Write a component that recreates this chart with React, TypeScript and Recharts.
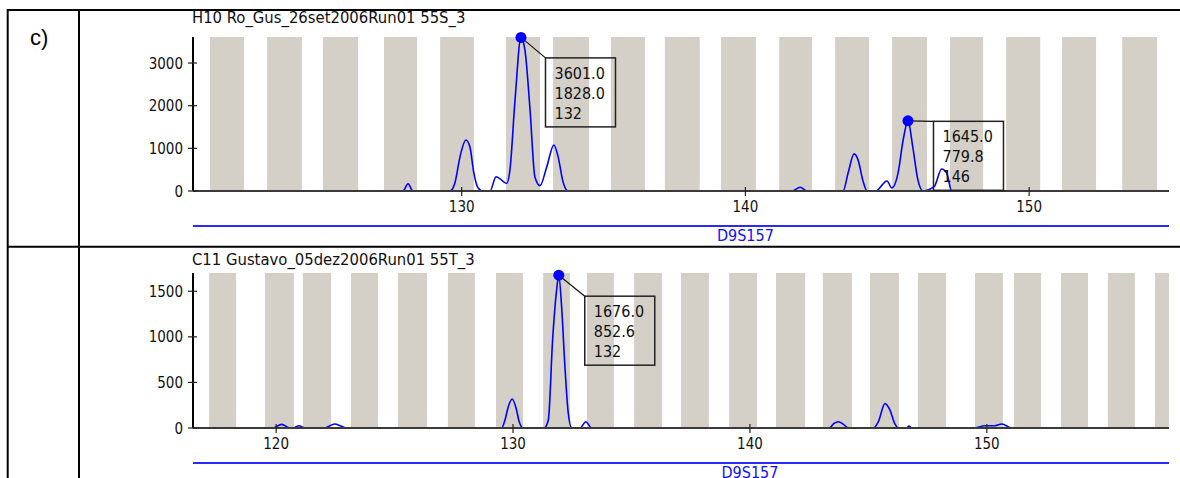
import React from 'react'
import { ComposedChart, Line, XAxis, YAxis, ReferenceArea, ReferenceDot } from 'recharts'

const FONT = "'DejaVu Sans Condensed', 'DejaVu Sans', sans-serif"

const panelLabel = 'c)'
const markerName = 'D9S157'
const markerCenter = [140]

// upper panel
const topTitle = 'H10 Ro_Gus_26set2006Run01 55S_3'
const topDomain = [120.53, 154.93]
const topMaxRfu = 3610
const topXTicks = [130, 140, 150]
const topYTicks = [0, 1000, 2000, 3000]
const topBins = [
  [121.13, 122.33], [123.14, 124.37], [125.11, 126.35], [127.26, 128.43],
  [129.24, 130.43], [131.56, 132.76], [133.22, 134.49], [135.26, 136.46],
  [137.16, 138.39], [139.14, 140.37], [141.19, 142.35], [143.16, 144.36],
  [145.17, 146.4], [147.21, 148.38], [149.19, 150.39], [151.16, 152.36],
  [153.28, 154.51],
]
const topSize = [
  120.53, 127.93, 128.11, 128.28, 129.59, 129.77, 129.94, 130.15, 130.29, 130.43,
  130.58, 130.75, 131.0, 131.21, 131.59, 131.7, 131.88, 132.09, 132.23, 132.41,
  132.58, 132.76, 133.0, 133.25, 133.4, 133.57, 133.75, 141.64, 141.93, 142.17,
  143.44, 143.62, 143.83, 143.97, 144.15, 144.29, 144.59, 144.99, 145.16, 145.38,
  145.56, 145.73, 145.9, 146.08, 146.26, 146.65, 146.92, 147.1, 147.27, 154.93,
]
const topRfu = [
  0, 0, 170, 0, 0, 210, 800, 1195, 1030, 420,
  70, 0, 0, 335, 180, 490, 2130, 3601, 3300, 1900,
  335, 125, 570, 1080, 800, 220, 0, 0, 87, 0,
  0, 420, 870, 730, 220, 0, 0, 235, 70, 420,
  1195, 1645, 1030, 260, 0, 100, 515, 410, 0, 0,
]
const topPeaks = [
  { size: 132.09, rfu: 3601, text: ['3601.0', '1828.0', '132'] },
  { size: 145.73, rfu: 1645, text: ['1645.0', '779.8', '146'] },
]

// lower panel
const bottomTitle = 'C11 Gustavo_05dez2006Run01 55T_3'
const bottomDomain = [116.49, 157.69]
const bottomMaxRfu = 1700
const bottomXTicks = [120, 130, 140, 150]
const bottomYTicks = [0, 500, 1000, 1500]
const bottomBins = [
  [117.17, 118.31], [119.53, 120.75], [121.13, 122.32], [123.16, 124.3],
  [125.14, 126.37], [127.25, 128.39], [129.28, 130.42], [131.27, 132.4],
  [133.12, 134.26], [135.11, 136.29], [137.09, 138.27], [139.12, 140.3],
  [141.1, 142.33], [143.08, 144.31], [145.07, 146.29], [147.09, 148.28],
  [149.5, 150.68], [151.15, 152.29], [153.13, 154.27], [155.11, 156.25],
  [157.1, 157.69],
]
const bottomSize = [
  116.49, 119.87, 120.23, 120.58, 120.71, 120.96, 121.22, 122.06, 122.27, 122.48,
  122.7, 122.99, 129.52, 129.66, 129.8, 129.96, 130.13, 130.26, 130.43, 131.31,
  131.49, 131.67, 131.84, 131.93, 132.05, 132.19, 132.33, 132.48, 132.83, 133.07,
  133.32, 143.35, 143.55, 143.73, 143.95, 144.15, 145.21, 145.42, 145.7, 145.91,
  146.12, 146.26, 146.62, 146.71, 146.83, 149.5, 149.92, 150.35, 150.63, 151.05,
  157.69,
]
const bottomRfu = [
  0, 0, 40, 0, 0, 25, 0, 0, 25, 44,
  25, 0, 0, 88, 234, 318, 216, 69, 0, 0,
  88, 965, 1514, 1676, 1331, 673, 165, 0, 0, 69,
  0, 0, 50, 69, 40, 0, 0, 69, 267, 197,
  44, 0, 0, 22, 0, 0, 25, 25, 44, 0,
  0,
]
const bottomPeaks = [
  { size: 131.93, rfu: 1676, text: ['1676.0', '852.6', '132'] },
]

const XTick = ({ x, y, payload }: any) => (
  <g>
    <line x1={x} y1={y - 4} x2={x} y2={y + 5} stroke="#222" strokeWidth={1.2} />
    <text x={x} y={y + 21} textAnchor="middle" fontSize={15} fontFamily={FONT} fill="#111">
      {payload.value}
    </text>
  </g>
)

const YTick = ({ x, y, payload }: any) => (
  <g>
    <line x1={x - 5} y1={y} x2={x + 4} y2={y} stroke="#222" strokeWidth={1.2} />
    <text x={x - 10} y={y + 5.5} textAnchor="end" fontSize={15} fontFamily={FONT} fill="#111">
      {payload.value}
    </text>
  </g>
)

const MarkerTick = ({ x, y }: any) => (
  <text x={x} y={y + 15} textAnchor="middle" fontSize={16} fontFamily={FONT} fill="#1010ff">
    {markerName}
  </text>
)

const Callout = ({ cx, cy, dx, dy, text }: any) => {
  const bx = cx + dx
  const by = cy + dy
  return (
    <g>
      <line x1={cx} y1={cy} x2={bx} y2={by} stroke="#111" strokeWidth={1.2} />
      <rect x={bx} y={by} width={70} height={69} fill="none" stroke="#222" strokeWidth={1.5} />
      {text.map((t: string, i: number) => (
        <text key={i} x={bx + 9} y={by + 21 + i * 20} fontSize={16} fontFamily={FONT} fill="#111">
          {t}
        </text>
      ))}
      <circle cx={cx} cy={cy} r={5.5} fill="#0000ff" />
    </g>
  )
}

interface PanelProps {
  top: number
  height: number
  marginTop: number
  markerHeight: number
  domain: number[]
  maxRfu: number
  xTicks: number[]
  yTicks: number[]
  bins: number[][]
  sizes: number[]
  rfus: number[]
  peaks: { size: number; rfu: number; text: string[] }[]
  offsets: number[][]
}

const Panel = (p: PanelProps) => {
  const data = p.sizes.map((s, i) => ({ size: s, rfu: p.rfus[i] }))
  return (
    <div style={{ position: 'absolute', left: 0, top: p.top }}>
      <ComposedChart
        width={1180}
        height={p.height}
        data={data}
        margin={{ top: p.marginTop, right: 11, bottom: 0, left: 133 }}
      >
        <XAxis
          dataKey="size"
          type="number"
          domain={p.domain}
          allowDataOverflow
          ticks={p.xTicks}
          interval={0}
          height={35}
          tickSize={0}
          tickMargin={0}
          tickLine={false}
          tick={<XTick />}
          axisLine={{ stroke: '#3a3a3a', strokeWidth: 2 }}
        />
        <XAxis
          xAxisId="marker"
          dataKey="size"
          type="number"
          domain={p.domain}
          allowDataOverflow
          ticks={markerCenter}
          interval={0}
          height={p.markerHeight}
          tickSize={0}
          tickMargin={0}
          tickLine={false}
          tick={<MarkerTick />}
          axisLine={{ stroke: '#2a2aff', strokeWidth: 2 }}
        />
        <YAxis
          type="number"
          domain={[0, p.maxRfu]}
          allowDataOverflow
          ticks={p.yTicks}
          interval={0}
          width={60}
          tickSize={0}
          tickMargin={0}
          tickLine={false}
          tick={<YTick />}
          axisLine={{ stroke: '#000', strokeWidth: 2 }}
        />
        {p.bins.map((b, i) => (
          <ReferenceArea
            key={i}
            x1={b[0]}
            x2={b[1]}
            y1={0}
            y2={p.maxRfu}
            fill="#d4d0c8"
            fillOpacity={1}
            stroke="none"
            ifOverflow="hidden"
          />
        ))}
        <Line
          dataKey="rfu"
          type="monotone"
          stroke="#0000ff"
          strokeWidth={1.6}
          dot={false}
          activeDot={false}
          isAnimationActive={false}
        />
        {p.peaks.map((pk, i) => (
          <ReferenceDot
            key={i}
            x={pk.size}
            y={pk.rfu}
            r={5.5}
            shape={(s: any) => (
              <Callout cx={s.cx} cy={s.cy} dx={p.offsets[i][0]} dy={p.offsets[i][1]} text={pk.text} />
            )}
          />
        ))}
      </ComposedChart>
    </div>
  )
}

export default function App() {
  return (
    <div
      style={{
        position: 'absolute',
        left: 0,
        top: 0,
        width: 1180,
        height: 478,
        overflow: 'hidden',
        background: '#fff',
      }}
    >
      <Panel
        top={0}
        height={246}
        marginTop={37}
        markerHeight={20}
        domain={topDomain}
        maxRfu={topMaxRfu}
        xTicks={topXTicks}
        yTicks={topYTicks}
        bins={topBins}
        sizes={topSize}
        rfus={topRfu}
        peaks={topPeaks}
        offsets={[[24.5, 20.5], [25.5, 0.5]]}
      />
      <Panel
        top={246}
        height={232}
        marginTop={27}
        markerHeight={15}
        domain={bottomDomain}
        maxRfu={bottomMaxRfu}
        xTicks={bottomXTicks}
        yTicks={bottomYTicks}
        bins={bottomBins}
        sizes={bottomSize}
        rfus={bottomRfu}
        peaks={bottomPeaks}
        offsets={[[26, 21]]}
      />
      <svg
        width={1180}
        height={478}
        style={{ position: 'absolute', left: 0, top: 0, pointerEvents: 'none' }}
      >
        <line x1={7} y1={10} x2={1180} y2={10} stroke="#000" strokeWidth={2} />
        <line x1={7.7} y1={9} x2={7.7} y2={478} stroke="#000" strokeWidth={2} />
        <line x1={79} y1={9} x2={79} y2={478} stroke="#000" strokeWidth={2} />
        <line x1={7} y1={246.7} x2={1180} y2={246.7} stroke="#000" strokeWidth={2} />
        <text x={30} y={44.5} fontSize={22} fontFamily="'Liberation Sans', Arial, sans-serif" fill="#000">
          {panelLabel}
        </text>
        <text x={192} y={23.3} fontSize={16.5} fontFamily={FONT} fill="#111">
          {topTitle}
        </text>
        <text x={192} y={265} fontSize={16.5} fontFamily={FONT} fill="#111">
          {bottomTitle}
        </text>
      </svg>
    </div>
  )
}
